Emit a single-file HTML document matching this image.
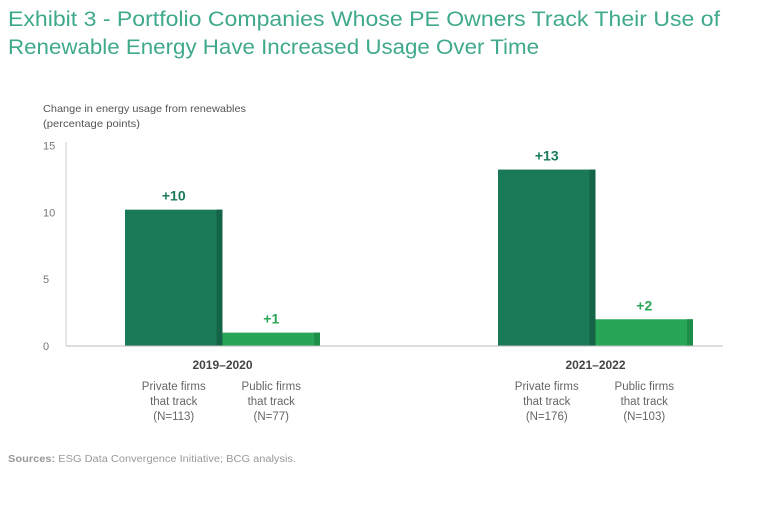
<!DOCTYPE html>
<html><head><meta charset="utf-8"><style>
html,body{margin:0;padding:0;background:#fff;}
svg{display:block;font-family:"Liberation Sans",sans-serif;}
</style></head><body>
<svg id="chart" width="768" height="506" viewBox="0 0 768 506" xmlns="http://www.w3.org/2000/svg">
<text x="8" y="26" font-size="21" fill="#3fa98d" textLength="712" lengthAdjust="spacingAndGlyphs">Exhibit 3 - Portfolio Companies Whose PE Owners Track Their Use of</text>
<text x="8" y="54" font-size="21" fill="#3fa98d" textLength="531" lengthAdjust="spacingAndGlyphs">Renewable Energy Have Increased Usage Over Time</text>
<text font-size="10.5" fill="#555"><tspan x="43" y="112" textLength="203" lengthAdjust="spacingAndGlyphs">Change in energy usage from renewables</tspan><tspan x="43" y="127" textLength="97" lengthAdjust="spacingAndGlyphs">(percentage points)</tspan></text>
<g id="axes"></g>
<g id="bars"></g>
<text x="8" y="462" font-size="10.5" fill="#999" textLength="288" lengthAdjust="spacingAndGlyphs"><tspan font-weight="bold">Sources:</tspan> ESG Data Convergence Initiative; BCG analysis.</text>
</svg>
<script>
const periods = ["2019–2020", "2021–2022"];
const privateValues = [10.2, 13.2];
const publicValues = [1.0, 2.0];
const privateLabels = ["+10", "+13"];
const publicLabels = ["+1", "+2"];
const privateN = ["(N=113)", "(N=176)"];
const publicN = ["(N=77)", "(N=103)"];
const yTicks = [0, 5, 10, 15];

const NS = "http://www.w3.org/2000/svg";
const y0 = 346, yTop = 145.5, yMax = 15;
const yScale = v => y0 - (v / yMax) * (y0 - yTop);
const groupStart = [125, 498];
const barW = 97.5;
function mk(tag, attrs, parent, text) {
  const e = document.createElementNS(NS, tag);
  for (const k in attrs) e.setAttribute(k, attrs[k]);
  if (text !== undefined) e.textContent = text;
  parent.appendChild(e);
  return e;
}
const axes = document.getElementById('axes');
const bars = document.getElementById('bars');
let ax = mk('line', {x1: 66, x2: 66, y1: 142, y2: y0, stroke: '#ccc', 'stroke-width': 1}, axes);


yTicks.forEach(t => {
  const tl = mk('text', {x: 43, y: yScale(t) + 4, 'font-size': 11, fill: '#777'}, axes, String(t));
  
  
});
function bar(x, v, fill, stripe, label, labelColor, name) {
  const yt = yScale(v);
  const r = mk('rect', {x: x, y: yt, width: barW, height: y0 - yt, fill: fill}, bars);
  
  
  const s = mk('rect', {x: x + barW - 6, y: yt, width: 6, height: y0 - yt, fill: stripe}, bars);
  
  
  const l = mk('text', {x: x + barW / 2, y: yt - 9, 'text-anchor': 'middle', 'font-size': 14, 'font-weight': 'bold', fill: labelColor}, bars, label);
  
  
}
periods.forEach((p, i) => {
  const gx = groupStart[i];
  bar(gx, privateValues[i], '#1a7a58', '#146448', privateLabels[i], '#1a7a58', 'bar-private-' + i);
  bar(gx + barW, publicValues[i], '#28a657', '#1e8f48', publicLabels[i], '#28a657', 'bar-public-' + i);
  const pl = mk('text', {x: gx + barW, y: 369, 'text-anchor': 'middle', 'font-size': 12, 'font-weight': 'bold', fill: '#444'}, bars, p);
  
  
  [[privateN[i], 'Private firms', gx + barW / 2], [publicN[i], 'Public firms', gx + barW * 1.5]].forEach(([n, t, cx]) => {
    const c = mk('text', {'text-anchor': 'middle', 'font-size': 11.5, fill: '#666'}, bars);
    
    
    mk('tspan', {x: cx, y: 390}, c, t);
    mk('tspan', {x: cx, y: 405}, c, 'that track');
    mk('tspan', {x: cx, y: 420}, c, n);
  });
});
const base = mk('line', {x1: 66, x2: 723, y1: y0, y2: y0, stroke: '#bbb', 'stroke-width': 1}, bars);


</script>
</body></html>
